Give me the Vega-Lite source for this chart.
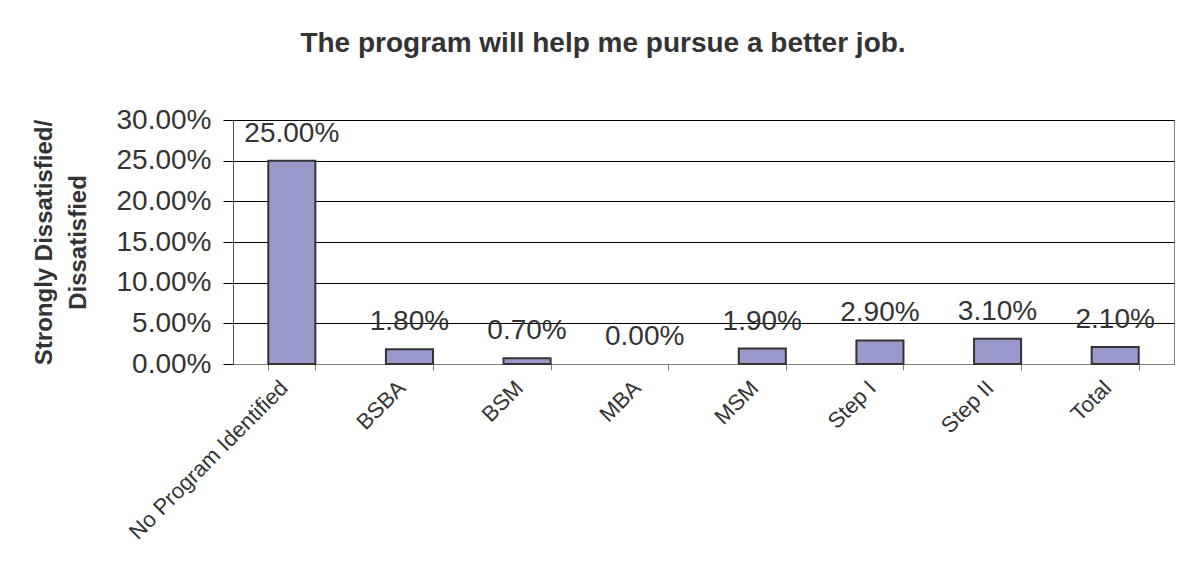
{
  "$schema": "https://vega.github.io/schema/vega-lite/v6.json",
  "width": 941,
  "height": 244,
  "autosize": {"type": "none"},
  "padding": {"left": 233, "top": 120, "right": 22, "bottom": 214},
  "background": "white",
  "title": {
    "text": "The program will help me pursue a better job.",
    "frame": "bounds",
    "anchor": "middle",
    "font": "Liberation Sans",
    "fontSize": 28,
    "fontWeight": "bold",
    "color": "#333333",
    "offset": 48
  },
  "config": {
    "font": "Liberation Sans",
    "view": {"stroke": "#808080", "strokeWidth": 1}
  },
  "data": {
    "values": [
      {"program": "No Program Identified", "pct": 0.25},
      {"program": "BSBA", "pct": 0.018},
      {"program": "BSM", "pct": 0.007},
      {"program": "MBA", "pct": 0.0},
      {"program": "MSM", "pct": 0.019},
      {"program": "Step I", "pct": 0.029},
      {"program": "Step II", "pct": 0.031},
      {"program": "Total", "pct": 0.021}
    ]
  },
  "encoding": {
    "x": {
      "field": "program",
      "type": "nominal",
      "sort": null,
      "scale": {"paddingInner": 0.6, "paddingOuter": 0.3},
      "axis": {
        "title": null,
        "labelAngle": -45,
        "labelAlign": "right",
        "labelBaseline": "middle",
        "labelFontSize": 22,
        "labelColor": "#333333",
        "labelPadding": 14,
        "labelOffset": -8,
        "tickBand": "extent",
        "tickSize": 6,
        "tickColor": "#808080",
        "domainColor": "#808080",
        "grid": false,
        "labelLimit": 400
      }
    },
    "y": {
      "field": "pct",
      "type": "quantitative",
      "scale": {"domain": [0, 0.3], "nice": false},
      "axis": {
        "values": [0, 0.05, 0.1, 0.15, 0.2, 0.25, 0.3],
        "format": ".2%",
        "title": ["Strongly Dissatisfied/", "Dissatisfied"],
        "titleFontSize": 24,
        "titleFontWeight": "bold",
        "titleColor": "#333333",
        "titleLineHeight": 34,
        "titlePadding": 26,
        "labelFontSize": 28,
        "labelColor": "#333333",
        "labelPadding": 12,
        "tickSize": 10,
        "tickColor": "#000000",
        "domainColor": "#555555",
        "grid": true,
        "gridColor": "#000000",
        "gridOpacity": 1,
        "gridWidth": 1
      }
    }
  },
  "layer": [
    {
      "mark": {"type": "bar", "color": "#9999cc", "strokeWidth": 2},
      "encoding": {
        "stroke": {
          "condition": {"test": "datum.pct === 0", "value": null},
          "value": "#333333"
        }
      }
    },
    {
      "mark": {"type": "text", "baseline": "alphabetic", "dy": -19, "fontSize": 28, "color": "#333333"},
      "encoding": {
        "text": {"field": "pct", "type": "quantitative", "format": ".2%"}
      }
    }
  ]
}
